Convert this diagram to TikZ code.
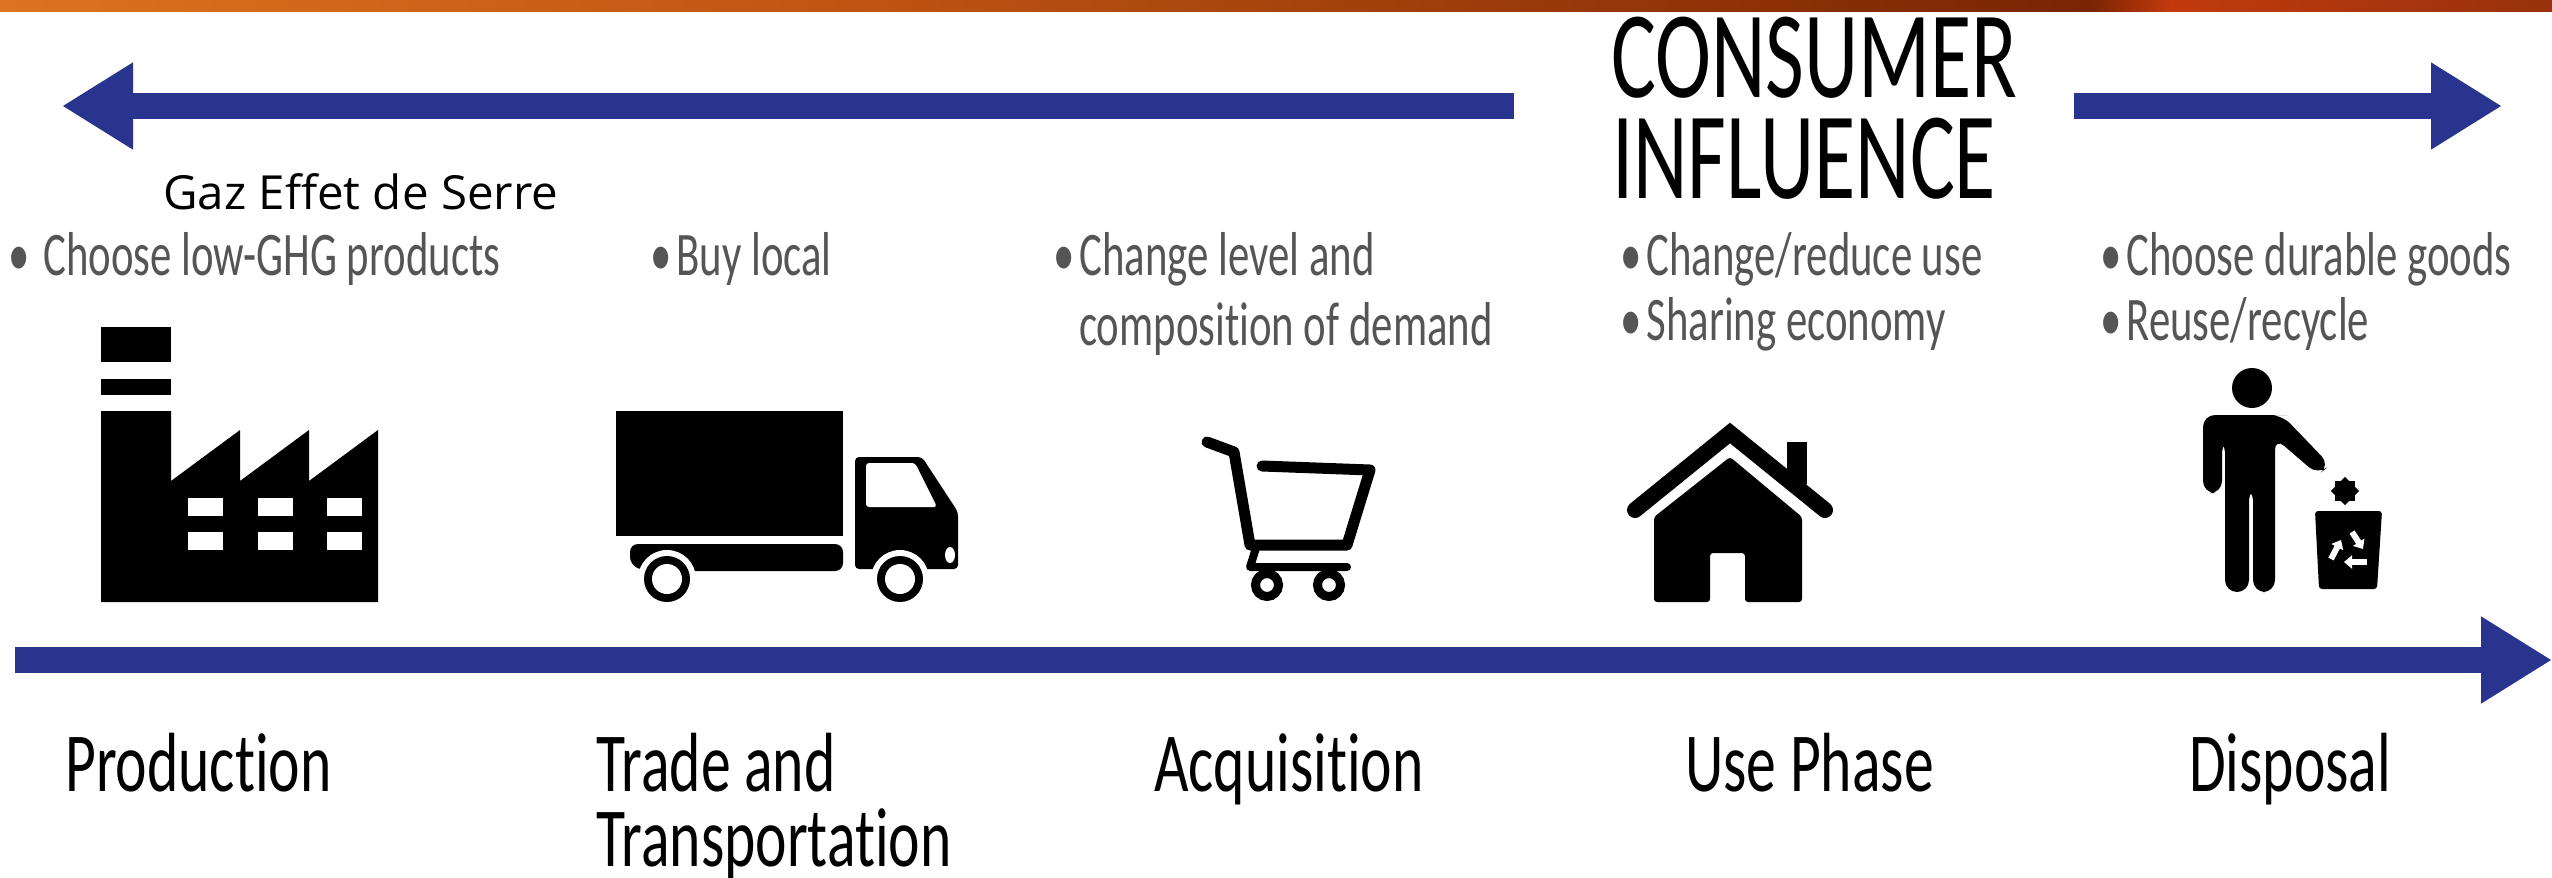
\documentclass[tikz,border=0pt]{standalone}
\usepackage{fontspec}
\usetikzlibrary{arrows.meta,positioning}
\newfontfamily\condfont[FakeStretch=0.71,Ligatures=NoCommon]{Carlito}
\newfontfamily\tipfont[FakeStretch=0.69,Ligatures=NoCommon]{Carlito}
\newfontfamily\headfont[FakeStretch=0.68,Ligatures=NoCommon]{Carlito}
\newfontfamily\gazfont[FakeStretch=1.01]{Open Sans}
\definecolor{flowblue}{HTML}{29348E}
\definecolor{tipgray}{HTML}{555555}
\definecolor{bandA}{HTML}{DB7320}
\definecolor{bandB}{HTML}{BF5512}
\definecolor{bandC}{HTML}{7A2403}
\definecolor{bandD}{HTML}{C23A0E}
\definecolor{bandE}{HTML}{97320C}
\newcommand{\tipdot}{•\kern5pt}

\begin{document}
\begin{tikzpicture}[x=1pt, y=-1pt,
    flowarrow/.style={draw=flowblue, line width=26pt, -{Triangle[length=71pt, width=82pt]}},
    label/.style={anchor=base west, inner sep=0pt, font=\condfont\fontsize{84}{84}\selectfont},
    headline/.style={anchor=base west, inner sep=0pt, font=\headfont\fontsize{124}{124}\selectfont},
    tip/.style={anchor=base west, inner sep=0pt, text=tipgray, font=\tipfont\fontsize{62}{62}\selectfont},
    cartline/.style={draw=black, line width=11pt, line cap=round, line join=round}]
    \useasboundingbox (0,0) rectangle (2552,878);

    % Draw top band
    \shade[left color=bandA, right color=bandB] (0,0) rectangle (850,11);
    \shade[left color=bandB, right color=bandC] (850,0) rectangle (2090,11);
    \shade[left color=bandC, right color=bandD] (2090,0) rectangle (2170,11);
    \shade[left color=bandD, right color=bandE] (2170,0) rectangle (2552,11);

    % Draw consumer influence arrows
    \coordinate (inflleftstart) at (1514,106);
    \coordinate (inflleftend) at (62,106);
    \coordinate (inflrightstart) at (2074,106);
    \coordinate (inflrightend) at (2502,106);
    \draw[flowarrow] (inflleftstart) -- (inflleftend);
    \draw[flowarrow] (inflrightstart) -- (inflrightend);

    % Headline
    \node[headline] (consumer) at (1611,97) {CONSUMER};
    \node[headline] (influence) at (1612,198) {INFLUENCE};

    % Overlaid caption
    \node[anchor=base west, inner sep=0pt, font=\gazfont\fontsize{47}{47}\selectfont] (gaz) at (163,209) {Gaz Effet de Serre};

    % Consumer actions
    \node[tip] (lowghg) at (8,275) {•\kern14pt Choose low-GHG products};
    \node[tip] (buylocal) at (650,275) {\tipdot Buy local};
    \node[tip] (changelevel) at (1053,275) {\tipdot Change level and};
    \node[tip] (composition) at (1079,345) {composition of demand};
    \node[tip] (changeuse) at (1620,275) {\tipdot Change/reduce use};
    \node[tip] (sharing) at (1620,340) {\tipdot Sharing economy};
    \node[tip] (durable) at (2100,275) {\tipdot Choose durable goods};
    \node[tip] (reuse) at (2100,340) {\tipdot Reuse/recycle};

    % Factory
    \fill (101,327) rectangle (171,362);
    \fill (101,379) rectangle (171,395);
    \fill (101,411) -- (171,411) -- (171,481) -- (240,430) -- (240,481) -- (309,430) -- (309,481) -- (378,430) -- (378,602) -- (101,602) -- cycle;
    \foreach \winx in {188,258,327}
        \foreach \winy in {498,532}
            \fill[white] (\winx,\winy) rectangle ++(35,18);

    % Truck
    \fill (616,411) rectangle (843,536);
    \fill[rounded corners=8pt] (645,544) -- (843,544) -- (843,571) -- (645,571) -- (630,565) -- (630,544) -- cycle;
    \fill[rounded corners=4pt] (855,457) -- (922,457) -- (958,512) -- (958,569) -- (855,569) -- cycle;
    \fill[white, rounded corners=3pt] (866,463) -- (915,463) -- (937,507) -- (866,507) -- cycle;
    \fill[white] (950,555) ellipse (5 and 8);
    \foreach \wheelx in {667,900} {
        \fill[white] (\wheelx,579) circle (29);
        \fill (\wheelx,579) circle (23);
        \fill[white] (\wheelx,579) circle (15);
    }

    % Shopping cart
    \draw[cartline] (1207,442) -- (1234,452) -- (1250,545) -- (1347,545) -- (1370,470) -- (1262,466);
    \draw[cartline, line width=8pt] (1256,548) -- (1250,567) -- (1347,567);
    \draw[line width=9pt] (1267,585) ellipse (11.5 and 11.5);
    \draw[line width=9pt] (1329,585) ellipse (11.5 and 11.5);

    % House
    \fill (1787,442) rectangle (1807,484);
    \draw[white, line width=8pt] (1775,464) -- (1815,500);
    \draw[line width=16pt, line cap=round, miter limit=10] (1635,510) -- (1730,433) -- (1825,510);
    \fill[rounded corners=3pt] (1654,517) -- (1730,457) -- (1802,517) -- (1802,602) -- (1745,602) -- (1745,553) -- (1710,553) -- (1710,602) -- (1654,602) -- cycle;

    % Person with bin
    \fill (2252,388) circle (20);
    \fill[rounded corners=12pt] (2203,493) -- (2203,415) -- (2275,415) -- (2282,415) -- (2330,465) -- (2318,475) -- (2275,438) -- (2275,592) -- (2253,592) -- (2253,488) -- (2249,488) -- (2249,592) -- (2225,592) -- (2225,440) -- (2222,440) -- (2222,493) -- cycle;
    \fill (2345,491) circle (10);
    \foreach \spike in {0,45,90} {
        \fill[rotate around={\spike:(2345,491)}] (2335,481) rectangle (2355,501);
    }
    \fill[rounded corners=3pt] (2315,511) -- (2382,511) -- (2377,589) -- (2319,589) -- cycle;
    \draw[white, line width=6pt, -{Triangle[length=8pt, width=13pt]}] (2352,532) -- (2363,549);
    \draw[white, line width=6pt, -{Triangle[length=8pt, width=13pt]}] (2367,562) -- (2344,562);
    \draw[white, line width=6pt, -{Triangle[length=8pt, width=13pt]}] (2331,559) -- (2341,540);

    % Production line
    \coordinate (linestart) at (15,660);
    \coordinate (lineend) at (2552,660);
    \draw[flowarrow] (linestart) -- (lineend);

    % Stage names
    \node[label] (production) at (65,791) {Production};
    \node[label] (trade) at (596,791) {Trade and};
    \node[label] (transport) at (596,866) {Transportation};
    \node[label] (acquisition) at (1154,791) {Acquisition};
    \node[label] (usephase) at (1685,791) {Use Phase};
    \node[label] (disposal) at (2189,791) {Disposal};

\end{tikzpicture}
\end{document}
